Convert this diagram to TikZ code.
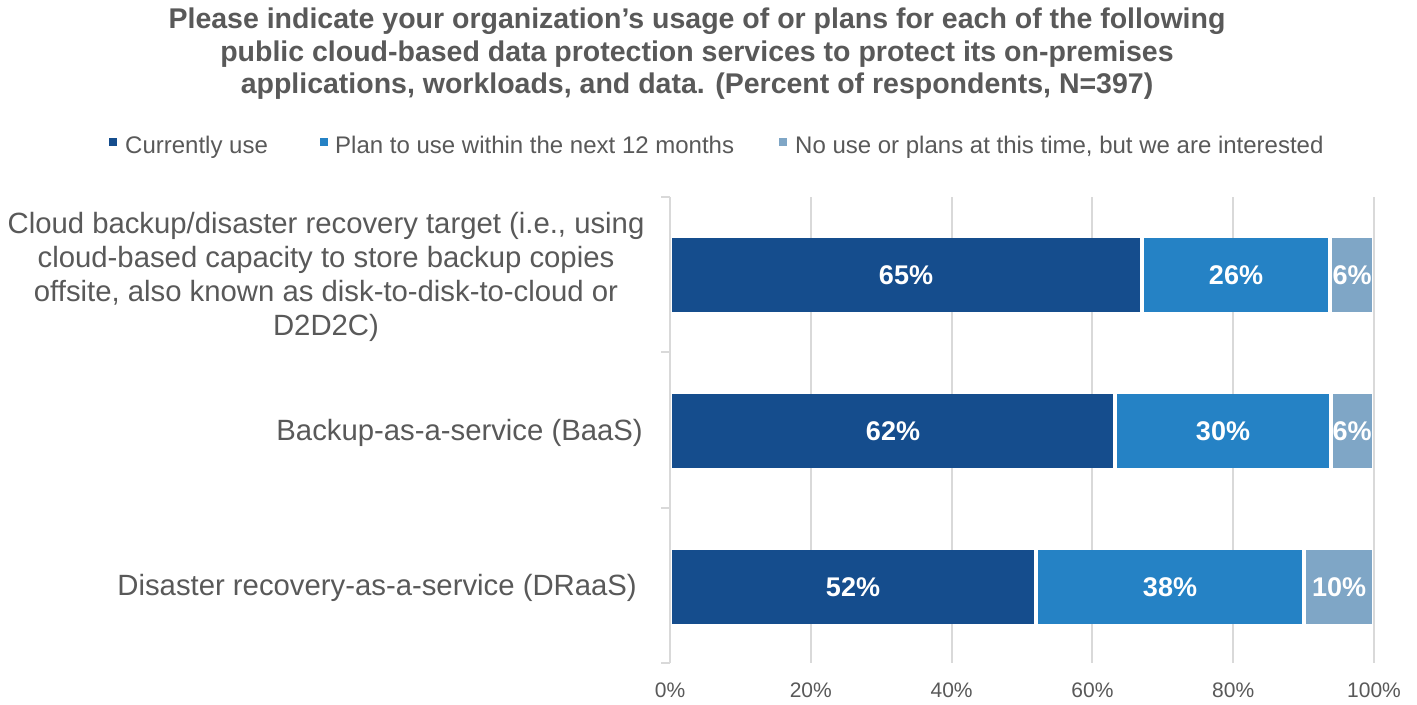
\documentclass[tikz,border=0pt]{standalone}
\usepackage{fontspec}
\setmainfont{Liberation Sans}
\definecolor{txtgray}{HTML}{595959}
\definecolor{gridgray}{HTML}{D9D9D9}
\definecolor{cdark}{HTML}{154D8D}
\definecolor{cmed}{HTML}{2582C5}
\definecolor{clight}{HTML}{7FA6C6}
\begin{document}
\begin{tikzpicture}[x=1bp,y=-1bp,
  titletext/.style={text=txtgray,font=\bfseries\fontsize{28.5bp}{32.5bp}\selectfont,align=center},
  legtext/.style={text=txtgray,font=\fontsize{24bp}{27bp}\selectfont,anchor=base west,inner sep=0pt},
  cattext/.style={text=txtgray,font=\fontsize{29.3bp}{34bp}\selectfont,align=center,inner sep=0pt},
  axtext/.style={text=txtgray,font=\fontsize{21bp}{24bp}\selectfont,inner sep=0pt},
  barlabel/.style={text=white,font=\bfseries\fontsize{27bp}{30bp}\selectfont,inner sep=0pt},
  gridline/.style={draw=gridgray,line width=2bp},
  legsq/.style={minimum size=8bp,inner sep=0pt}
]
\useasboundingbox[fill=white] (0,0) rectangle (1417,705);

% title
\node[titletext] (title) at (697,54) {Please indicate your organization’s usage of or plans for each of the following\\public cloud-based data protection services to protect its on-premises\\applications, workloads, and data. (Percent of respondents, N=397)};

% legend
\node[legsq,fill=cdark] (sq1) at (113,142) {};
\node[legtext] (lg1) at (125,153.5) {Currently use};
\node[legsq,fill=cmed] (sq2) at (324,142) {};
\node[legtext] (lg2) at (335,153.5) {Plan to use within the next 12 months};
\node[legsq,fill=clight] (sq3) at (783,142) {};
\node[legtext] (lg3) at (795,153.5) {No use or plans at this time, but we are interested};

% gridlines
\foreach \p/\n in {20/g20,40/g40,60/g60,80/g80,100/g100}{
  \coordinate (\n t) at ({670+7.04*\p},197);
  \coordinate (\n b) at ({670+7.04*\p},663);
  \draw[gridline] (\n t) -- (\n b);
}
% axis with ticks
\coordinate (axt) at (670,197);
\coordinate (axb) at (670,663);
\draw[gridline] (axt) -- (axb);
\foreach \yy/\n in {197/t0,352.3/t1,507.7/t2,663/t3}{
  \coordinate (\n a) at (661,\yy);
  \coordinate (\n b) at (670,\yy);
  \draw[gridline] (\n a) -- (\n b);
}

% axis labels
\foreach \p in {0,20,40,60,80,100}{
  \node[axtext] (ax\p) at ({670+7.04*\p},690) {\p\%};
}

% bars
% bar 1: 65,26,6 (total 97)
\fill[cdark]  (672,237.5) rectangle (1139.75,311.7);
\fill[cmed]   (1143.75,237.5) rectangle (1328.45,311.7);
\fill[clight] (1332.45,237.5) rectangle (1372,311.7);
\node[barlabel] (b1a) at (906,275) {65\%};
\node[barlabel] (b1b) at (1236,275) {26\%};
\node[barlabel] (b1c) at (1352,275) {6\%};
% bar 2: 62,30,6 (total 98)
\fill[cdark]  (672,394) rectangle (1113.4,468.2);
\fill[cmed]   (1117.4,394) rectangle (1328.9,468.2);
\fill[clight] (1332.9,394) rectangle (1372,468.2);
\node[barlabel] (b2a) at (893,431.5) {62\%};
\node[barlabel] (b2b) at (1223,431.5) {30\%};
\node[barlabel] (b2c) at (1352,431.5) {6\%};
% bar 3: 52,38,10
\fill[cdark]  (672,550) rectangle (1034.1,624.2);
\fill[cmed]   (1038.1,550) rectangle (1301.6,624.2);
\fill[clight] (1305.6,550) rectangle (1372,624.2);
\node[barlabel] (b3a) at (853,587.5) {52\%};
\node[barlabel] (b3b) at (1170,587.5) {38\%};
\node[barlabel] (b3c) at (1339,587.5) {10\%};

% category labels
\node[cattext] (c1) at (326,277) {Cloud backup/disaster recovery target (i.e., using\\cloud-based capacity to store backup copies\\offsite, also known as disk-to-disk-to-cloud or\\D2D2C)};
\node[cattext,anchor=east] (c2) at (643,433) {Backup-as-a-service (BaaS)};
\node[cattext,anchor=east] (c3) at (637,588) {Disaster recovery-as-a-service (DRaaS)};
\end{tikzpicture}
\end{document}
